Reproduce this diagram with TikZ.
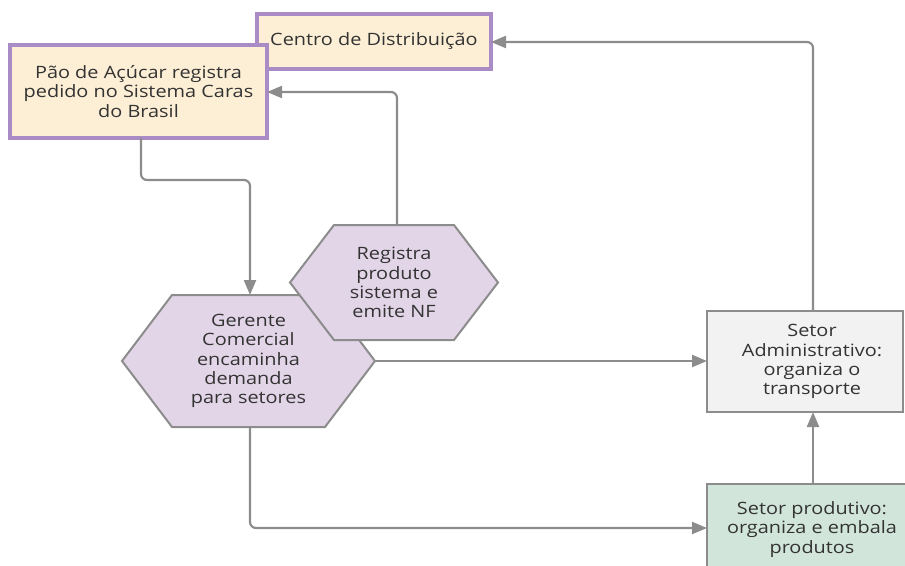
\documentclass[tikz,border=0pt]{standalone}
\usepackage{fontspec}
\setmainfont[FakeStretch=1.17]{Open Sans}
\usetikzlibrary{arrows.meta,calc}
\definecolor{boxorange}{HTML}{FDEFD5}
\definecolor{boxpurple}{HTML}{A98BC5}
\definecolor{hexfill}{HTML}{E2D5E7}
\definecolor{linegray}{HTML}{8C8C8C}
\definecolor{admfill}{HTML}{F2F2F2}
\definecolor{prodfill}{HTML}{D1E5DB}
\definecolor{txt}{HTML}{333333}
\begin{document}
\begin{tikzpicture}[x=1pt,y=-1pt,
  every node/.style={text=txt,font=\fontsize{17}{19.2}\selectfont,align=center,inner sep=0pt},
  orangebox/.style={draw=boxpurple,fill=boxorange,line width=3.5pt,rectangle},
  graybox/.style={draw=linegray,line width=2pt,rectangle},
  hexbox/.style={draw=linegray,fill=hexfill,line width=2pt,line join=miter},
  conn/.style={draw=linegray,line width=2.2pt,rounded corners=6pt,-{Triangle[length=15pt,width=12pt]}}]
\useasboundingbox (0,0) rectangle (905,565);
\begin{scope}
\clip (0,0) rectangle (905,565);
% Centro de Distribuição
\node[orangebox,minimum width=234pt,minimum height=55pt] (centro) at (374,41.5) {Centro de Distribuição};
% Pão de Açúcar
\node[orangebox,minimum width=257pt,minimum height=93pt] (pao) at (138.5,91.5) {Pão de Açúcar registra\\pedido no Sistema Caras\\do Brasil};
% Gerente hexagon
\coordinate (gerc) at (248.5,361);
\draw[hexbox] ($(gerc)+(-126.5,0)$) -- ($(gerc)+(-76.5,-66)$) -- ($(gerc)+(76.5,-66)$) -- ($(gerc)+(126.5,0)$) -- ($(gerc)+(76.5,66)$) -- ($(gerc)+(-76.5,66)$) -- cycle;
\node (ger) at (gerc) {Gerente\\Comercial\\encaminha\\demanda\\para setores};
% Registra hexagon
\coordinate (regc) at (394,282.5);
\draw[hexbox] ($(regc)+(-104,0)$) -- ($(regc)+(-60,-57.5)$) -- ($(regc)+(60,-57.5)$) -- ($(regc)+(104,0)$) -- ($(regc)+(60,57.5)$) -- ($(regc)+(-60,57.5)$) -- cycle;
\node (reg) at (regc) {Registra\\produto\\sistema e\\emite NF};
% Setor Administrativo
\node[graybox,fill=admfill,minimum width=196pt,minimum height=101pt] (adm) at (805,361.5) {};
\node (admt) at (812,361.5) {Setor\\Administrativo:\\organiza o\\transporte};
% Setor produtivo
\node[graybox,fill=prodfill,minimum width=218pt,minimum height=116pt] (prod) at (816,542) {};
\node (prodt) at (812,529.5) {Setor produtivo:\\organiza e embala\\produtos};
% anchor coordinates
\coordinate (gertop) at (250,295);
\coordinate (gerbot) at (250,427);
\coordinate (gerright) at (375,361);
\coordinate (regtop) at (397,225);
\coordinate (admtop) at (813,311);
\coordinate (admbot) at (813,412);
\coordinate (prodtop) at (813,484);
\coordinate (prodleft) at (707,528);
\coordinate (admleft) at (707,361);
\coordinate (paobot) at (141,138);
\coordinate (paoright) at (267,92);
\coordinate (centroright) at (491,42);
% connectors
\draw[conn] (paobot) -- (141,180) -- (250,180) -- (gertop);
\draw[conn] (regtop) -- (397,92) -- (paoright);
\draw[conn] (gerright) -- (admleft);
\draw[conn] (gerbot) -- (250,528) -- (prodleft);
\draw[conn] (prodtop) -- (admbot);
\draw[conn] (admtop) -- (813,42) -- (centroright);
\end{scope}
\end{tikzpicture}
\end{document}
